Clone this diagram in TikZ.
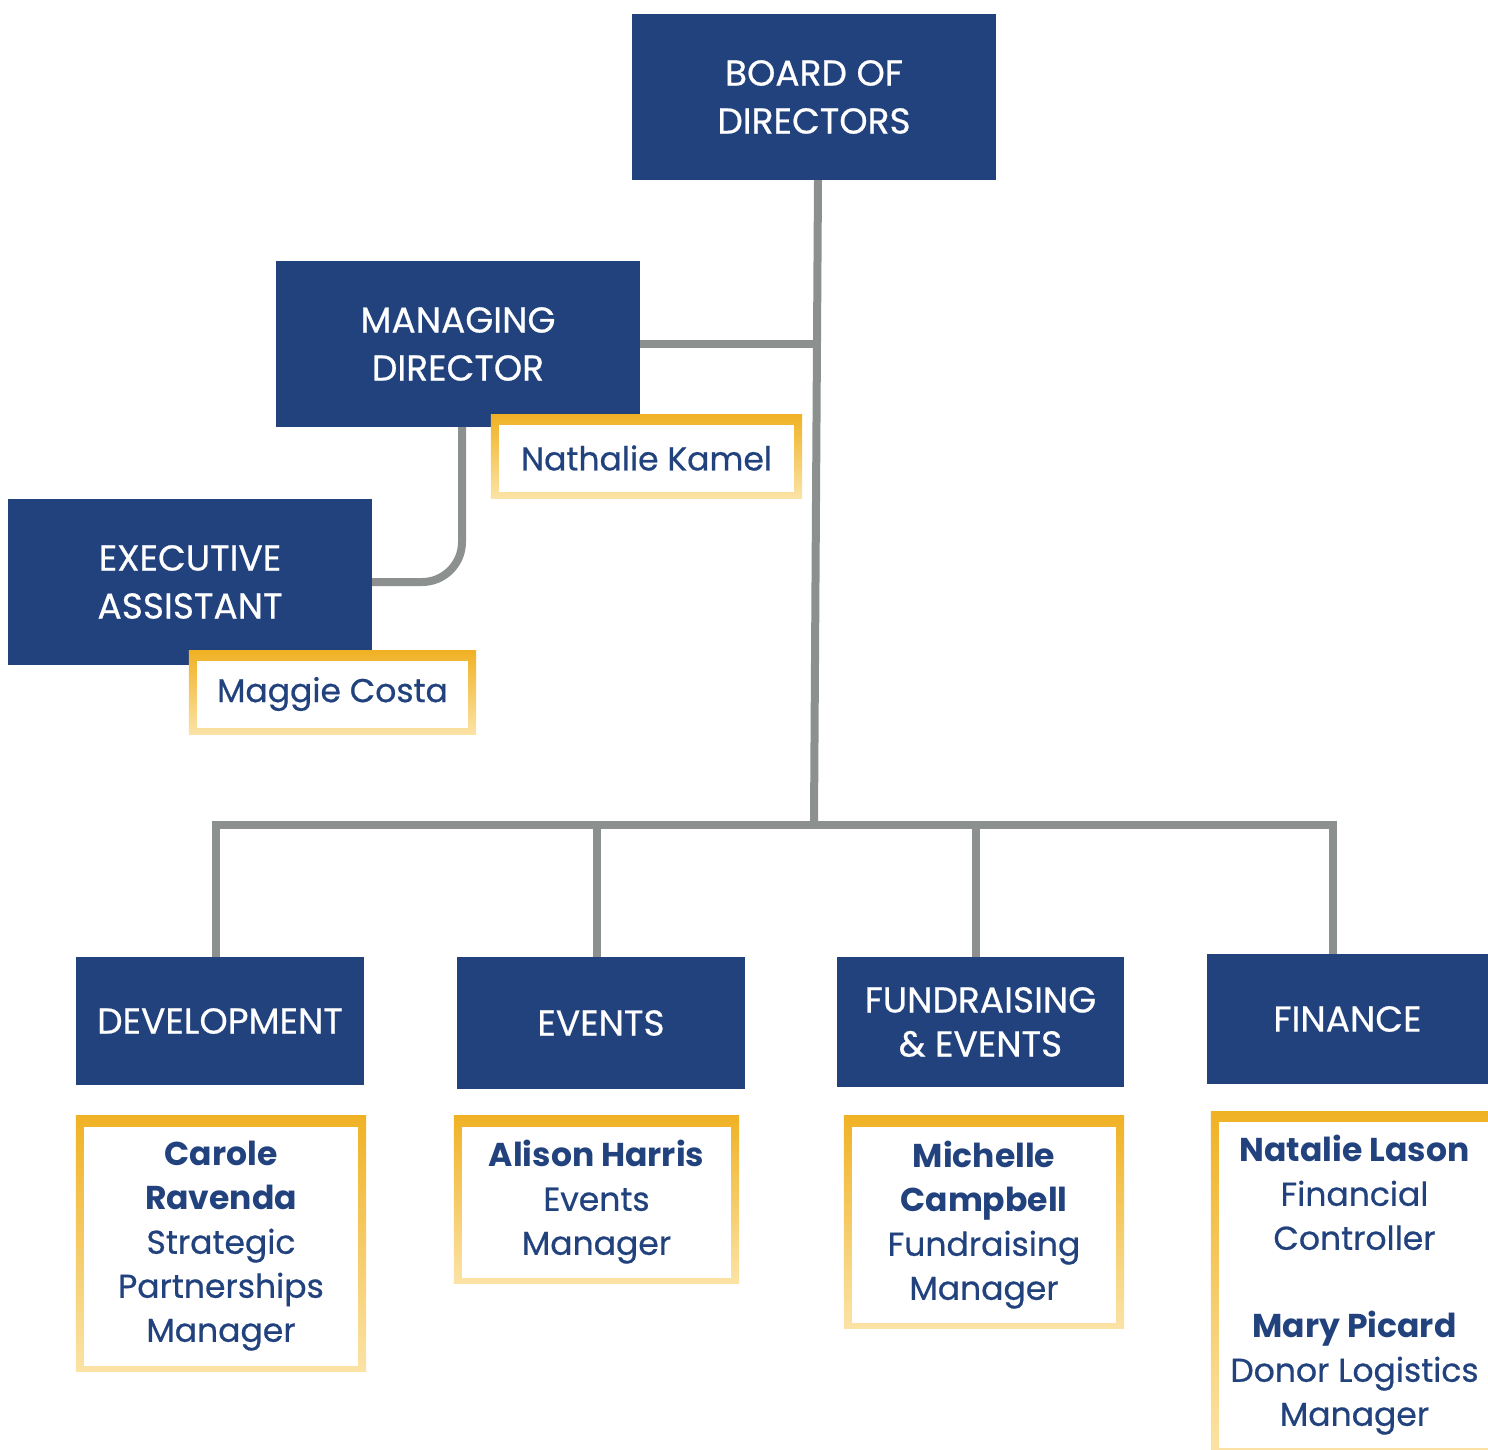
\documentclass[tikz,border=0pt]{standalone}
\usepackage{fontspec}
\setmainfont{Poppins}[FakeBold=0.6, BoldFont=Poppins Bold, BoldFeatures={FakeBold=0}]
\usetikzlibrary{calc}
\pgfdeclarelayer{hdr}
\pgfdeclarelayer{frm}
\pgfsetlayers{hdr,frm,main}
\definecolor{navy}{HTML}{22427E}
\definecolor{linegrey}{HTML}{8C908F}
\definecolor{goldtop}{HTML}{F0B225}
\definecolor{goldbot}{HTML}{FBE3A6}
\tikzset{
  headbox/.style={fill=navy, text=white, inner sep=0pt, align=center,
    font={\fontsize{36}{48}\selectfont}},
  namebox/.style={fill=white, text=navy, inner sep=0pt, align=center,
    font={\fontsize{33}{44}\selectfont}},
  conn/.style={draw=linegrey, line width=8pt},
}
\begin{document}
\begin{tikzpicture}[x=1pt,y=-1pt]
\useasboundingbox (0,0) rectangle (1488,1449);
% header boxes
\begin{pgfonlayer}{hdr}
\node[headbox, minimum width=364, minimum height=166] (board) at (814,97) {BOARD OF\\DIRECTORS};
\node[headbox, minimum width=364, minimum height=166] (md) at (458,344) {MANAGING\\DIRECTOR};
\node[headbox, minimum width=364, minimum height=166] (ea) at (190,582) {EXECUTIVE\\ASSISTANT};
\node[headbox, minimum width=288, minimum height=128] (dev) at (220,1021) {DEVELOPMENT};
\node[headbox, minimum width=288, minimum height=132] (ev) at (601,1023) {EVENTS};
\node[headbox, minimum width=287, minimum height=130, font={\fontsize{36}{44}\selectfont}] (fe) at (980.5,1022) {FUNDRAISING\\\&~EVENTS};
\node[headbox, minimum width=281, minimum height=130] (fin) at (1347.5,1019) {FINANCE};
\end{pgfonlayer}
% name boxes
\node[namebox, minimum width=295, minimum height=67] (nk) at (646.5,458) {Nathalie Kamel};
\node[namebox, minimum width=271, minimum height=67] (mc) at (332.5,694) {Maggie Costa};
\node[namebox, minimum width=274, minimum height=239] (cr) at (221,1246)
  {\textbf{Carole}\\\textbf{Ravenda}\\Strategic\\Partnerships\\Manager};
\node[namebox, minimum width=269, minimum height=151] (ah) at (596.5,1202)
  {\textbf{Alison Harris}\\Events\\Manager};
\node[namebox, minimum width=264, minimum height=196] (mi) at (984,1225)
  {\textbf{Michelle}\\\textbf{Campbell}\\Fundraising\\Manager};
\node[namebox, minimum width=271, minimum height=326] (nl) at (1354.5,1285)
  {\textbf{Natalie Lason}\\Financial\\Controller\\[44pt]\textbf{Mary Picard}\\Donor Logistics\\Manager};
\begin{pgfonlayer}{frm}
\foreach \n/\dy in {nk/1.5,mc/1.5,cr/2.5,ah/2.5,mi/3,nl/2}
  \shade[top color=goldtop, bottom color=goldbot]
    ([shift={(-8,-8-\dy)}]\n.north west) rectangle ([shift={(8,8-\dy)}]\n.south east);
\end{pgfonlayer}
% connectors
\coordinate (bj) at (814,821);
\coordinate (busL) at (216,821);
\coordinate (busR) at (1333,821);
\draw[conn] ([xshift=4]board.south) -- (bj);
\draw[conn] (md.east) -- (817,344);
\draw[conn, rounded corners=40] ([xshift=4]md.south) |- (ea.east);
\draw[conn] (dev.north -| busL) -- ([yshift=-4]busL) -- ([yshift=-4]busR) -- (busR |- fin.north);
\draw[conn] (ev.north -| 597,0) -- (597,821);
\draw[conn] (fe.north -| 976,0) -- (976,821);
\end{tikzpicture}
\end{document}
